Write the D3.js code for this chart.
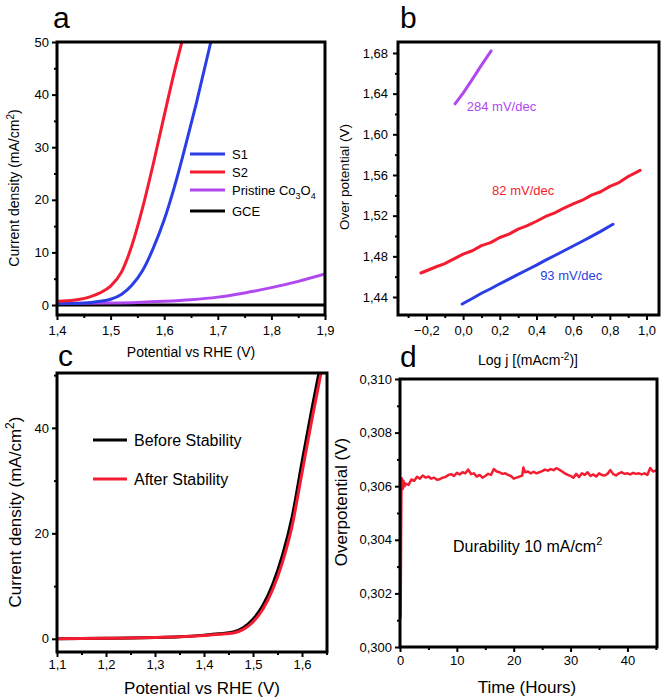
<!DOCTYPE html>
<html>
<head>
	<meta charset="utf-8">
	<title></title>
	<style type="text/css">
		body {
			margin: 0;
			background-color: #fff;
		}
		svg {
			font-family: 'Liberation Sans', Arial, sans-serif;
			background-color: #fff;
		}
		.tick text {
			font-size: 13px;
			fill: #000;
		}
		.tick line {
			stroke: #000;
			stroke-width: 2px;
		}
		.frame {
			fill: none;
			stroke: #000;
			stroke-width: 3px;
		}
		.letter {
			font-size: 30px;
			fill: #000;
		}
	</style>
	<script type="text/javascript" src="https://cdn.jsdelivr.net/npm/d3@7"></script>
</head>
<body>
	<div id="chart"></div>
	<script type="text/javascript">
		// panel a : LSV curves
		var aS1X = [1.40, 1.43, 1.46, 1.48, 1.50, 1.52, 1.54, 1.56, 1.58, 1.60, 1.62, 1.64, 1.66, 1.687];
		var aS1Y = [0.3, 0.3, 0.45, 0.7, 1.1, 2.0, 3.8, 6.6, 10.9, 16.2, 22.8, 30.4, 38.4, 50];
		var aS2X = [1.40, 1.42, 1.44, 1.46, 1.48, 1.50, 1.52, 1.54, 1.56, 1.58, 1.60, 1.62, 1.633];
		var aS2Y = [0.7, 0.8, 1.05, 1.5, 2.3, 3.6, 6.2, 11.4, 18.6, 27, 36, 44.8, 50];
		var aCoX = [1.40, 1.45, 1.50, 1.55, 1.60, 1.65, 1.70, 1.75, 1.80, 1.85, 1.90];
		var aCoY = [0.3, 0.35, 0.4, 0.5, 0.7, 1.0, 1.5, 2.3, 3.3, 4.5, 5.9];
		var aGceX = [1.40, 1.90];
		var aGceY = [0, 0];
		var aXTicks = [1.4, 1.5, 1.6, 1.7, 1.8, 1.9];
		var aYTicks = [0, 10, 20, 30, 40, 50];

		// panel b : Tafel
		var bRedX = [-0.23, -0.15, -0.10, -0.05, 0.00, 0.05, 0.10, 0.15, 0.20, 0.25, 0.30, 0.35, 0.40, 0.45, 0.50, 0.55, 0.60, 0.65, 0.70, 0.75, 0.80, 0.85, 0.90, 0.965];
		var bRedY = [1.4636, 1.4695, 1.4728, 1.4775, 1.4822, 1.4855, 1.4905, 1.4935, 1.4985, 1.5018, 1.5068, 1.5102, 1.5145, 1.5192, 1.5228, 1.5275, 1.5315, 1.5352, 1.5402, 1.5435, 1.5488, 1.5525, 1.5585, 1.5645];
		var bBlueX = [-0.005, 0.05, 0.10, 0.15, 0.20, 0.25, 0.30, 0.35, 0.40, 0.45, 0.50, 0.55, 0.60, 0.65, 0.70, 0.75, 0.817];
		var bBlueY = [1.4331, 1.4385, 1.4437, 1.4481, 1.4530, 1.4575, 1.4622, 1.4668, 1.4714, 1.4762, 1.4808, 1.4855, 1.4902, 1.4948, 1.4996, 1.5045, 1.5115];
		var bPurX = [-0.044, 0.00, 0.05, 0.10, 0.153];
		var bPurY = [1.630, 1.6405, 1.654, 1.668, 1.682];
		var bXTicks = [-0.2, 0, 0.2, 0.4, 0.6, 0.8, 1.0];
		var bYTicks = [1.44, 1.48, 1.52, 1.56, 1.60, 1.64, 1.68];

		// panel c : before / after stability
		var cX = [1.10, 1.15, 1.20, 1.25, 1.30, 1.35, 1.40, 1.43, 1.46, 1.48, 1.50, 1.52, 1.54, 1.56, 1.58, 1.60, 1.62, 1.64, 1.65];
		var cBefore = [0.0, 0.05, 0.1, 0.15, 0.25, 0.4, 0.7, 0.95, 1.3, 2.1, 3.7, 6.3, 10.3, 15.8, 23.2, 33.5, 43.5, 53, 58];
		var cAfter = [0.0, 0.05, 0.1, 0.15, 0.25, 0.4, 0.65, 0.85, 1.1, 1.8, 3.2, 5.6, 9.3, 14.5, 21.5, 31.5, 41.5, 51, 56];
		var cXTicks = [1.1, 1.2, 1.3, 1.4, 1.5, 1.6];
		var cYTicks = [0, 20, 40];

		// panel d : durability
		var dT = [0.10, 0.15, 0.20, 0.25, 0.30, 0.40, 0.50, 0.60, 0.80, 1.0, 1.5, 2.0, 2.5, 3.0, 3.5, 4.0, 4.5, 5.0, 5.5, 6.0, 6.5, 7.0, 7.5, 8.0, 8.5, 9.0, 9.5, 10.0, 10.5, 11.0, 11.5, 12.0, 12.5, 13.0, 13.5, 14.0, 14.5, 15.0, 15.5, 16.0, 16.5, 17.0, 17.5, 18.0, 18.5, 19.0, 19.5, 20.0, 20.5, 21.0, 21.5, 21.7, 22.0, 22.5, 23.0, 23.5, 24.0, 24.5, 25.0, 25.5, 26.0, 26.5, 27.0, 27.5, 28.0, 28.5, 29.0, 29.5, 30.0, 30.5, 31.0, 31.5, 32.0, 32.5, 33.0, 33.5, 34.0, 34.5, 35.0, 35.5, 36.0, 36.5, 37.0, 37.5, 38.0, 38.5, 39.0, 39.5, 40.0, 40.5, 41.0, 41.5, 42.0, 42.5, 43.0, 43.5, 44.0, 44.5, 45.0];
		var dV = [0.3011, 0.3025, 0.3045, 0.3058, 0.3063, 0.3062, 0.3059, 0.3062, 0.3060, 0.3061, 0.30605, 0.30625, 0.3062, 0.30635, 0.30628, 0.3064, 0.30632, 0.30636, 0.30628, 0.30632, 0.30624, 0.30626, 0.30632, 0.30634, 0.30642, 0.30645, 0.30638, 0.3065, 0.30644, 0.30652, 0.30648, 0.30662, 0.30645, 0.30648, 0.30636, 0.30642, 0.30632, 0.30638, 0.30646, 0.30642, 0.30664, 0.30655, 0.30652, 0.30646, 0.30648, 0.30642, 0.30638, 0.30628, 0.30632, 0.30636, 0.3064, 0.3067, 0.30652, 0.30655, 0.30648, 0.30654, 0.30648, 0.30652, 0.30656, 0.30662, 0.30658, 0.30664, 0.3066, 0.30667, 0.30662, 0.30655, 0.30648, 0.30642, 0.30638, 0.30632, 0.30646, 0.30634, 0.30648, 0.30642, 0.30652, 0.30638, 0.30644, 0.30636, 0.30648, 0.30642, 0.3064, 0.30646, 0.3066, 0.30645, 0.3064, 0.30648, 0.30652, 0.30646, 0.30648, 0.30644, 0.3065, 0.30646, 0.30648, 0.30644, 0.30648, 0.30642, 0.30668, 0.30655, 0.30658];
		var dXTicks = [0, 10, 20, 30, 40];
		var dYTicks = [0.300, 0.302, 0.304, 0.306, 0.308, 0.310];

		var blue = '#2b3ee6', red = '#f41c30', purple = '#b048f0';

		var loc = d3.formatLocale({decimal: ',', thousands: '.', grouping: [3], currency: ['', '']});

		var svg = d3.select('#chart')
			.append('svg')
			.attr('width', 661)
			.attr('height', 700);

		var clipId = 0;

		function panel(p) {
			var x = d3.scaleLinear().domain(p.xDomain).range([p.left, p.right]);
			var y = d3.scaleLinear().domain(p.yDomain).range([p.bottom, p.top]);
			var g = svg.append('g');

			// minor ticks
			g.append('g')
				.attr('transform', 'translate(0,' + p.bottom + ')')
				.call(d3.axisBottom(x).tickValues(p.xMinor).tickSize(3).tickFormat(''))
				.call(function(s){ s.select('.domain').remove(); });
			g.append('g')
				.attr('transform', 'translate(' + p.left + ',0)')
				.call(d3.axisLeft(y).tickValues(p.yMinor).tickSize(3).tickFormat(''))
				.call(function(s){ s.select('.domain').remove(); });

			// major ticks
			g.append('g')
				.attr('transform', 'translate(0,' + p.bottom + ')')
				.call(d3.axisBottom(x).tickValues(p.xTicks).tickSize(5).tickPadding(p.xPad || 6).tickFormat(p.xFmt))
				.call(function(s){ s.select('.domain').remove(); });
			g.append('g')
				.attr('transform', 'translate(' + p.left + ',0)')
				.call(d3.axisLeft(y).tickValues(p.yTicks).tickSize(5).tickPadding(p.yPad || 3).tickFormat(p.yFmt))
				.call(function(s){ s.select('.domain').remove(); });

			clipId++;
			svg.append('clipPath')
				.attr('id', 'clip' + clipId)
				.append('rect')
				.attr('x', p.left)
				.attr('y', p.top)
				.attr('width', p.right - p.left)
				.attr('height', p.bottom - p.top);

			var plot = g.append('g').attr('clip-path', 'url(#clip' + clipId + ')');

			g.append('rect')
				.attr('class', 'frame')
				.attr('x', p.left)
				.attr('y', p.top)
				.attr('width', p.right - p.left)
				.attr('height', p.bottom - p.top);

			return {x: x, y: y, g: g, plot: plot};
		}

		function drawLine(pn, xs, ys, color, width, curve) {
			var pts = xs.map(function(v, i){ return [v, ys[i]]; });
			var line = d3.line()
				.x(function(d){ return pn.x(d[0]); })
				.y(function(d){ return pn.y(d[1]); })
				.curve(curve || d3.curveLinear);
			pn.plot.append('path')
				.datum(pts)
				.attr('d', line)
				.attr('fill', 'none')
				.attr('stroke', color)
				.attr('stroke-width', width)
				.attr('stroke-linejoin', 'round')
				.attr('stroke-linecap', 'round');
		}

		// text with sub / superscripts: parts = [[text, dy, small]]
		function rich(x, y, size, parts, rotate, anchor) {
			var t = svg.append('text')
				.attr('x', x)
				.attr('y', y)
				.attr('text-anchor', anchor || 'middle')
				.style('font-size', size + 'px')
				.attr('fill', '#000');
			if (rotate) t.attr('transform', 'rotate(-90,' + x + ',' + y + ')');
			parts.forEach(function(pt){
				t.append('tspan')
					.attr('dy', pt[1] || 0)
					.style('font-size', pt[2] ? Math.round(size * 0.7) + 'px' : null)
					.text(pt[0]);
			});
			return t;
		}

		function letter(x, y, s) {
			svg.append('text').attr('class', 'letter').attr('x', x).attr('y', y).text(s);
		}

		// ---------- panel a ----------
		var pa = panel({
			left: 57, right: 325, top: 42, bottom: 315,
			xDomain: [1.4, 1.9], yDomain: [-1.9, 50],
			xTicks: aXTicks, xMinor: [1.45, 1.55, 1.65, 1.75, 1.85],
			yTicks: aYTicks, yMinor: [5, 15, 25, 35, 45],
			xFmt: loc.format('.1f'), yFmt: loc.format('d')
		});
		drawLine(pa, aGceX, aGceY, '#000', 3);
		drawLine(pa, aCoX, aCoY, purple, 3, d3.curveMonotoneX);
		drawLine(pa, aS1X, aS1Y, blue, 3, d3.curveMonotoneX);
		drawLine(pa, aS2X, aS2Y, red, 3, d3.curveMonotoneX);

		var legA = [
			{c: blue, y: 154, t: [['S1']]},
			{c: red, y: 172, t: [['S2']]},
			{c: purple, y: 190, t: [['Pristine Co'], ['3', 4, true], ['O', -4], ['4', 4, true]]},
			{c: '#000', y: 211, t: [['GCE']]}
		];
		legA.forEach(function(l){
			svg.append('line')
				.attr('x1', 190).attr('x2', 225)
				.attr('y1', l.y).attr('y2', l.y)
				.attr('stroke', l.c).attr('stroke-width', 3);
			rich(232, l.y + 5, 13, l.t, false, 'start');
		});

		rich(191, 357, 14, [['Potential vs RHE (V)']]);
		rich(19, 188, 14, [['Current density (mA/cm'], ['2', -5, true], [')', 5]], true);
		letter(53, 28, 'a');

		// ---------- panel b ----------
		var pb = panel({
			left: 398, right: 659, top: 42, bottom: 315,
			xDomain: [-0.355, 1.068], yDomain: [1.4223, 1.6908],
			xTicks: bXTicks, xMinor: [-0.3, -0.1, 0.1, 0.3, 0.5, 0.7, 0.9],
			yTicks: bYTicks, yMinor: [1.46, 1.50, 1.54, 1.58, 1.62, 1.66],
			xFmt: loc.format('.1f'), yFmt: loc.format('.2f'), yPad: 5
		});
		drawLine(pb, bRedX, bRedY, red, 3);
		drawLine(pb, bBlueX, bBlueY, blue, 3);
		drawLine(pb, bPurX, bPurY, purple, 3);

		svg.append('text').attr('x', pb.x(0.02)).attr('y', pb.y(1.623))
			.style('font-size', '13px').attr('fill', purple).text('284 mV/dec');
		svg.append('text').attr('x', pb.x(0.158)).attr('y', pb.y(1.540))
			.style('font-size', '13px').attr('fill', red).text('82 mV/dec');
		svg.append('text').attr('x', pb.x(0.42)).attr('y', pb.y(1.457))
			.style('font-size', '13px').attr('fill', blue).text('93 mV/dec');

		rich(528, 365, 14, [['Log j [(mAcm'], ['-2', -5, true], [')]', 5]]);
		rich(349, 177, 13.5, [['Over potential (V)']], true);
		letter(400, 28, 'b');

		// ---------- panel c ----------
		var pc = panel({
			left: 57, right: 327, top: 373, bottom: 652,
			xDomain: [1.1, 1.651], yDomain: [-2.5, 50.4],
			xTicks: cXTicks, xMinor: [1.15, 1.25, 1.35, 1.45, 1.55, 1.65],
			yTicks: cYTicks, yMinor: [10, 30, 50],
			xFmt: loc.format('.1f'), yFmt: loc.format('d'), xPad: 3
		});
		drawLine(pc, cX, cBefore, '#000', 3, d3.curveMonotoneX);
		drawLine(pc, cX, cAfter, red, 3, d3.curveMonotoneX);

		[{c: '#000', y: 440, t: 'Before Stability'}, {c: red, y: 479, t: 'After Stability'}].forEach(function(l){
			svg.append('line')
				.attr('x1', 93).attr('x2', 127)
				.attr('y1', l.y).attr('y2', l.y)
				.attr('stroke', l.c).attr('stroke-width', 3);
			svg.append('text').attr('x', 134).attr('y', l.y + 6)
				.style('font-size', '16px').attr('fill', '#000').text(l.t);
		});

		rich(202, 694, 17, [['Potential vs RHE (V)']]);
		rich(21, 512, 17, [['Current density (mA/cm'], ['2', -7, true], [')', 7]], true);
		letter(58, 366, 'c');

		// ---------- panel d ----------
		var pd = panel({
			left: 400, right: 657, top: 379, bottom: 647,
			xDomain: [0, 45.2], yDomain: [0.300, 0.310],
			xTicks: dXTicks, xMinor: [5, 15, 25, 35, 45],
			yTicks: dYTicks, yMinor: [0.301, 0.303, 0.305, 0.307, 0.309],
			xFmt: loc.format('d'), yFmt: loc.format('.3f'), xPad: 4
		});
		drawLine(pd, dT, dV, red, 2.5);

		rich(453, 552, 16, [['Durability 10 mA/cm'], ['2', -7, true]], false, 'start');
		rich(527, 693, 17, [['Time (Hours)']]);
		rich(347, 502, 17, [['Overpotential (V)']], true);
		letter(400, 367, 'd');
	</script>
</body>
</html>
